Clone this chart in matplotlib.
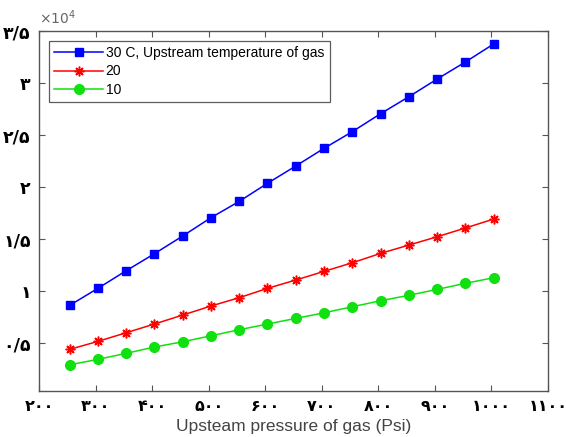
import matplotlib
matplotlib.use("Agg")
import matplotlib.pyplot as plt
import matplotlib.transforms as mtransforms

# pressure (Psi)
pressure = [254, 304, 354, 404, 454, 504, 554, 604, 654, 704, 754, 804, 854, 904, 954, 1004]

# values x 10^4, one list per upstream gas temperature
t30 = [0.862, 1.026, 1.195, 1.359, 1.529, 1.705, 1.862, 2.036, 2.202, 2.372,
       2.532, 2.705, 2.868, 3.038, 3.202, 3.375]
t20 = [0.439, 0.516, 0.599, 0.683, 0.769, 0.856, 0.936, 1.026, 1.106, 1.189,
       1.272, 1.362, 1.442, 1.522, 1.606, 1.692]
t10 = [0.291, 0.343, 0.401, 0.462, 0.512, 0.570, 0.628, 0.683, 0.737, 0.791,
       0.849, 0.907, 0.959, 1.016, 1.074, 1.128]

xticks = [200, 300, 400, 500, 600, 700, 800, 900, 1000, 1100]
xtick_labels = ["۲۰۰", "۳۰۰", "۴۰۰", "۵۰۰", "۶۰۰", "۷۰۰", "۸۰۰", "۹۰۰", "۱۰۰۰", "۱۱۰۰"]
yticks = [0.5, 1, 1.5, 2, 2.5, 3, 3.5]
ytick_labels = ["۰/۵", "۱", "۱/۵", "۲", "۲/۵", "۳", "۳/۵"]

plt.rcParams['font.family'] = ['Liberation Sans', 'DejaVu Sans']

fig = plt.figure(figsize=(5.66, 4.37), dpi=100)
ax = fig.add_axes([0.069, 0.105, 0.899, 0.824])

ax.plot(pressure, [v * 1e4 for v in t30], color='blue', lw=1.1, marker='s', ms=6,
        label='30 C, Upstream temperature of gas')
ax.plot(pressure, [v * 1e4 for v in t20], color='red', lw=1.1, marker=(8, 2, 0), ms=7,
        mew=1.1, label='20')
ax.plot(pressure, [v * 1e4 for v in t10], color='#10e010', lw=1.1, marker='o', ms=7,
        label='10')

ax.set_xlim(200, 1100)
ax.set_ylim(380, 35000)
ax.set_xticks(xticks)
ax.set_xticklabels(xtick_labels, fontsize=11.5, fontweight='bold', family='DejaVu Sans')
ax.set_yticks([v * 1e4 for v in yticks])
ax.set_yticklabels(ytick_labels, fontsize=12.5, fontweight='bold', family='DejaVu Sans')
# nudge the last x label left so it stays inside the figure
last = ax.get_xticklabels()[-1]
last.set_transform(last.get_transform() +
                   mtransforms.ScaledTranslation(-5 / 100, 0, fig.dpi_scale_trans))
ax.tick_params(direction='in', top=True, right=True, length=4, width=0.8,
               color='#555555', pad=6)
for s in ax.spines.values():
    s.set_color('#555555')
    s.set_linewidth(1)

ax.text(0.0, 1.012, r'$\times10^4$', transform=ax.transAxes, fontsize=10,
        color='#666666', ha='left', va='bottom')

ax.set_xlabel('Upsteam pressure of gas (Psi)', fontsize=12.5, color='#444444', labelpad=3)

leg = ax.legend(loc='upper left', fontsize=10, frameon=True, fancybox=False,
                edgecolor='#333333', handlelength=3.5, borderpad=0.4,
                labelspacing=0.3, handletextpad=0.2, borderaxespad=0.7)
leg.get_frame().set_linewidth(0.9)

fig.savefig('out.png', dpi=100)
